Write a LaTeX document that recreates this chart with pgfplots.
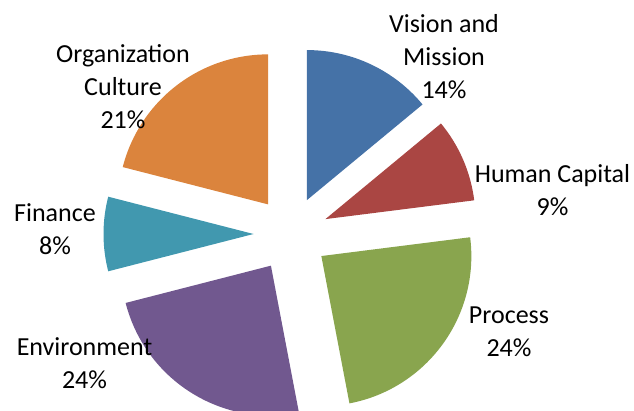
\documentclass[border=0pt]{standalone}
\usepackage{pgfplots}
\usepackage{pgfplotstable}
\pgfplotsset{compat=1.18}
\usepackage{fontspec}
\setmainfont{Carlito}
\definecolor{vis}{HTML}{4572A7}
\definecolor{hum}{HTML}{AA4643}
\definecolor{proc}{HTML}{89A54E}
\definecolor{env}{HTML}{71588F}
\definecolor{fin}{HTML}{4198AF}
\definecolor{org}{HTML}{DB843D}
\pgfplotstableread{
pct color
14 vis
9 hum
24 proc
24 env
8 fin
21 org
}\piedata
\begin{document}
\begin{tikzpicture}
\path[use as bounding box] (0,0) rectangle (634pt,410pt);
\begin{axis}[at={(0,0)}, anchor=south west, scale only axis,
  width=634pt, height=410pt, xmin=0, xmax=634, ymin=0, ymax=410,
  hide axis, clip=true]
\def\cum{0}
\pgfplotsforeachungrouped \i in {0,...,5}{%
  \pgfplotstablegetelem{\i}{pct}\of\piedata \let\p\pgfplotsretval
  \pgfplotstablegetelem{\i}{color}\of\piedata \let\c\pgfplotsretval
  \pgfmathsetmacro\a{90-3.6*\cum}%
  \pgfmathsetmacro\b{90-3.6*(\cum+\p)}%
  \pgfmathsetmacro\m{(\a+\b)/2}%
  \pgfmathsetmacro\cx{291+37.5*cos(\m)}%
  \pgfmathsetmacro\cy{176+37.5*sin(\m)}%
  \edef\tmp{\noexpand\fill[\c] (axis cs:\cx,\cy) -- ++(\a:150pt) arc[start angle=\a, end angle=\b, radius=150pt] -- cycle;}%
  \tmp
  \pgfmathsetmacro\cum{\cum+\p}%
}
\tikzset{lbl/.style={align=center, inner sep=0pt, font=\fontsize{26}{33}\selectfont, text=black}}
\node[lbl] at (axis cs:444,353) {Vision and\\Mission\\14\%};
\node[lbl] at (axis cs:552.5,219.5) {Human Capital\\9\%};
\node[lbl] at (axis cs:509,78.5) {Process\\24\%};
\node[lbl] at (axis cs:84.5,47) {Environment\\24\%};
\node[lbl] at (axis cs:55,181) {Finance\\8\%};
\node[lbl] at (axis cs:123,323) {Organization\\Culture\\21\%};
\end{axis}
\end{tikzpicture}
\end{document}
